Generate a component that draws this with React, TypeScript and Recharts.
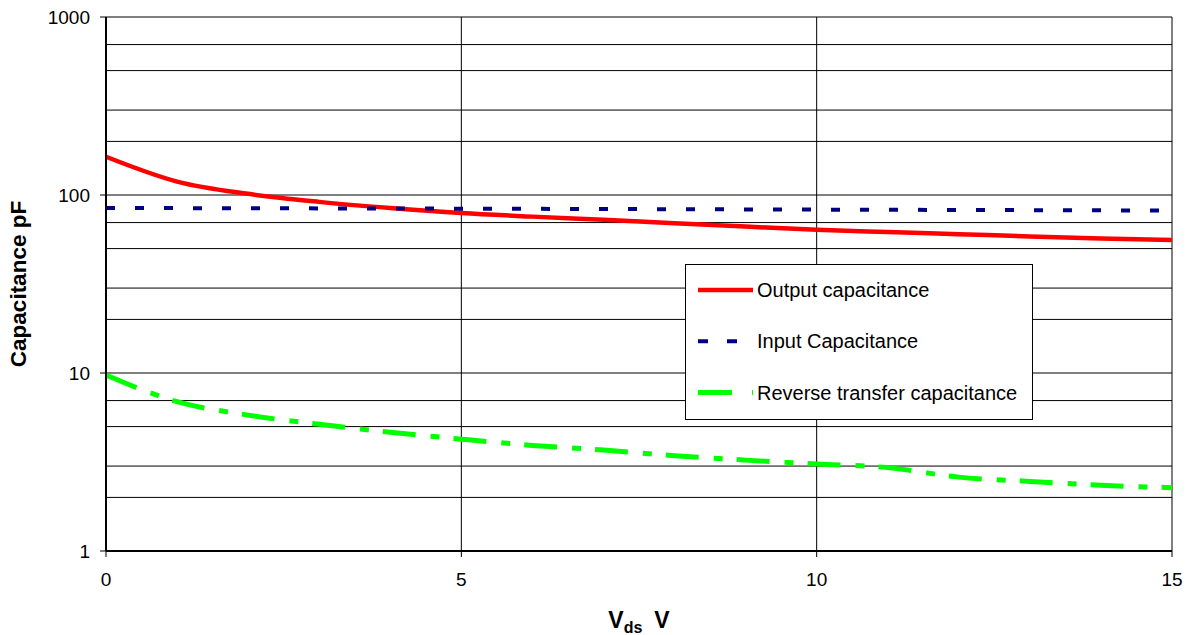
import { CartesianGrid, Legend, Line, LineChart, XAxis, YAxis } from 'recharts'

// Vds in volts
const vds = [0, 1, 2, 3, 4, 5, 6, 7, 8, 9, 10, 11, 12, 13, 14, 15]
// capacitances in pF
const outputCap = [164, 119, 101.5, 91.5, 84.5, 79.2, 75.6, 72.5, 69.4, 66.5, 63.8, 61.9, 60.2, 58.5, 57, 55.8]
const inputCap = [84.5, 84.4, 84.3, 84.1, 84, 83.8, 83.6, 83.4, 83.2, 83, 82.8, 82.6, 82.4, 82.2, 82, 81.8]
const reverseCap = [9.75, 6.9, 5.8, 5.15, 4.65, 4.25, 3.92, 3.69, 3.43, 3.24, 3.08, 2.94, 2.6, 2.46, 2.34, 2.27]

const xTicks = [0, 5, 10, 15]
const yTicks = [1, 10, 100, 1000]
const decades = [1, 10, 100]
const gridValues = [...decades.flatMap((d) => [1, 2, 3, 4, 5, 6, 7, 8, 9].map((m) => d * m)), 1000]

const data = vds.map((v, i) => ({
  vds: v,
  output: outputCap[i],
  input: inputCap[i],
  reverse: reverseCap[i],
}))

const FONT = '"Liberation Sans", Arial, sans-serif'

const legendItems = [
  { label: 'Output capacitance', color: '#FF0000', width: 4.5, dash: undefined },
  { label: 'Input Capacitance', color: '#000080', width: 4, dash: '10 19' },
  { label: 'Reverse transfer capacitance', color: '#00FF00', width: 5, dash: '34 20' },
]

function LegendBox() {
  return (
    <svg width={348} height={157} style={{ display: 'block', overflow: 'visible' }}>
      <rect x={0.5} y={0.5} width={347} height={155} fill="#fff" stroke="#000" strokeWidth={1} />
      {legendItems.map((it, i) => {
        const y = 26 + i * 51.3
        return (
          <g key={it.label}>
            <line
              x1={13}
              x2={68}
              y1={y}
              y2={y}
              stroke={it.color}
              strokeWidth={it.width}
              strokeDasharray={it.dash}
            />
            <text x={72} y={y + 7} fontSize={20} fontFamily={FONT} fill="#000">
              {it.label}
            </text>
          </g>
        )
      })}
    </svg>
  )
}

function XTitle(props: any) {
  const { x, y, width } = props.viewBox
  return (
    <text x={x + width / 2} y={y + 77} textAnchor="middle" fontFamily={FONT} fontWeight="bold" fill="#000">
      <tspan fontSize={23}>V</tspan>
      <tspan fontSize={16} dy={5}>ds</tspan>
      <tspan fontSize={23} dy={-5} dx={12}>V</tspan>
    </text>
  )
}

function YTitle(props: any) {
  const { x, y, height } = props.viewBox
  return (
    <text
      transform={`translate(${x + 26}, ${y + height / 2}) rotate(-90)`}
      textAnchor="middle"
      fontFamily={FONT}
      fontWeight="bold"
      fontSize={22.5}
      fill="#000"
    >
      Capacitance pF
    </text>
  )
}

export default function App() {
  const tick = { fill: '#000', fontSize: 19, fontFamily: FONT }
  return (
    <div style={{ position: 'absolute', left: 0, top: 0, background: '#fff' }}>
      <LineChart width={1193} height={635} data={data} margin={{ top: 17, right: 21, bottom: 0, left: 0 }}>
        <CartesianGrid stroke="#000" strokeWidth={1} horizontalValues={gridValues} verticalValues={xTicks} />
        <XAxis
          dataKey="vds"
          type="number"
          domain={[0, 15]}
          ticks={xTicks}
          height={84}
          tick={tick}
          tickSize={6}
          tickMargin={16}
          axisLine={{ stroke: '#000', strokeWidth: 2 }}
          tickLine={{ stroke: '#000' }}
          label={{ content: XTitle }}
        />
        <YAxis
          scale="log"
          domain={[1, 1000]}
          ticks={yTicks}
          allowDataOverflow
          width={106}
          tick={tick}
          tickSize={6}
          tickMargin={10}
          axisLine={{ stroke: '#000', strokeWidth: 2 }}
          tickLine={{ stroke: '#000' }}
          label={{ content: YTitle }}
        />
        <Legend
          content={() => <LegendBox />}
          wrapperStyle={{ position: 'absolute', left: 685, top: 264, width: 348, height: 0, bottom: 'auto', right: 'auto' }}
        />
        <Line
          dataKey="output"
          type="monotone"
          stroke="#FF0000"
          strokeWidth={4.5}
          dot={false}
          isAnimationActive={false}
        />
        <Line
          dataKey="input"
          type="monotone"
          stroke="#000080"
          strokeWidth={4}
          strokeDasharray="9 20"
          dot={false}
          isAnimationActive={false}
        />
        <Line
          dataKey="reverse"
          type="monotone"
          stroke="#00FF00"
          strokeWidth={5}
          strokeDasharray="33 15 9 14"
          dot={false}
          isAnimationActive={false}
        />
      </LineChart>
    </div>
  )
}
